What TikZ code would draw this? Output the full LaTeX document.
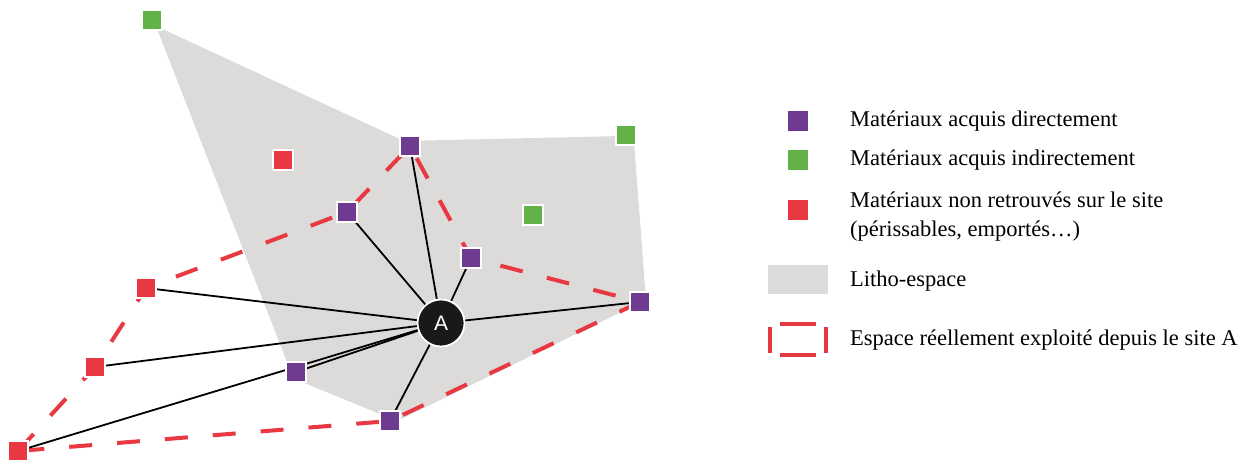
\documentclass[tikz,border=0pt]{standalone}
\usepackage{fontspec}
\setmainfont{Liberation Serif}
\newfontfamily\sansA{Liberation Sans}
\definecolor{pur}{RGB}{111,59,145}
\definecolor{grn}{RGB}{98,178,72}
\definecolor{rd}{RGB}{232,56,66}
\definecolor{litho}{RGB}{220,219,218}
\begin{document}
\begin{tikzpicture}[x=1pt,y=-1pt,
  sq/.style={draw=white,line width=1.3pt,minimum size=20pt,inner sep=0pt,shape=rectangle},
  psq/.style={sq,fill=pur},
  gsq/.style={sq,fill=grn},
  rsq/.style={sq,fill=rd},
  link/.style={black,line width=1.8pt},
  expl/.style={rd,line width=4pt,dash pattern=on 23pt off 25pt},
  leg/.style={anchor=west,font=\fontsize{22.5}{29}\selectfont,inner sep=0pt,align=left}]
\useasboundingbox (0,0) rectangle (1246,461);
% litho-space
\fill[litho] (156,26) -- (404,141) -- (622,136) -- (634,142) -- (646,300) -- (397,421) -- (302,382) -- (287,362) -- cycle;
% coordinates
\coordinate (g1) at (152,20);
\coordinate (p1) at (410,146);
\coordinate (g2) at (626,135);
\coordinate (g3) at (533,215);
\coordinate (r1) at (283,160);
\coordinate (p2) at (347,212);
\coordinate (p3) at (471,258);
\coordinate (p4) at (640,302);
\coordinate (a) at (441,323);
\coordinate (r2) at (146,288);
\coordinate (r3) at (95,367);
\coordinate (p5) at (296,372);
\coordinate (p6) at (390,421);
\coordinate (r4) at (18,451);
% exploited space
\draw[expl] (r4) -- (r3) -- (r2) -- (p2) -- (p1) -- (p3) -- (p4) -- (p6) -- cycle;
% links
\foreach \t in {p1,p2,p3,p4,r2,r3,r4,p5,p6}
  \draw[link] (a) -- (\t);
% nodes
\node[gsq] (G1) at (g1) {};
\node[gsq] (G2) at (g2) {};
\node[gsq] (G3) at (g3) {};
\node[rsq] (R1) at (r1) {};
\node[rsq] (R2) at (r2) {};
\node[rsq] (R3) at (r3) {};
\node[rsq] (R4) at (r4) {};
\node[psq] (P1) at (p1) {};
\node[psq] (P2) at (p2) {};
\node[psq] (P3) at (p3) {};
\node[psq] (P4) at (p4) {};
\node[psq] (P5) at (p5) {};
\node[psq] (P6) at (p6) {};
\node[circle,fill=black!90,draw=white,line width=1.8pt,minimum size=47pt,inner sep=0pt,text=white,font=\sansA\fontsize{21}{24}\selectfont] (A) at (a) {A};
% legend
\node[psq,draw=none] (L1) at (798,121) {};
\node[gsq,draw=none] (L2) at (798,160) {};
\node[rsq,draw=none] (L3) at (798,210) {};
\node[fill=litho,minimum width=60pt,minimum height=29pt,inner sep=0pt] (L4) at (798,279) {};
\coordinate (L5) at (798,340);
\draw[rd,line width=4pt] ([xshift=-28pt,yshift=-13pt]L5) -- ([xshift=-28pt,yshift=13pt]L5);
\draw[rd,line width=4pt] ([xshift=28pt,yshift=-13pt]L5) -- ([xshift=28pt,yshift=13pt]L5);
\draw[rd,line width=4pt] ([xshift=-18pt,yshift=-15pt]L5) -- ([xshift=18pt,yshift=-15pt]L5);
\draw[rd,line width=4pt] ([xshift=-18pt,yshift=16pt]L5) -- ([xshift=18pt,yshift=16pt]L5);
\node[leg] (T1) at (850,121) {Matériaux acquis directement};
\node[leg] (T2) at (850,160) {Matériaux acquis indirectement};
\node[leg] (T3) at (850,217) {Matériaux non retrouvés sur le site\\(périssables, emportés…)};
\node[leg] (T4) at (850,281) {Litho-espace};
\node[leg] (T5) at (850,340) {Espace réellement exploité depuis le site A};
\end{tikzpicture}
\end{document}
